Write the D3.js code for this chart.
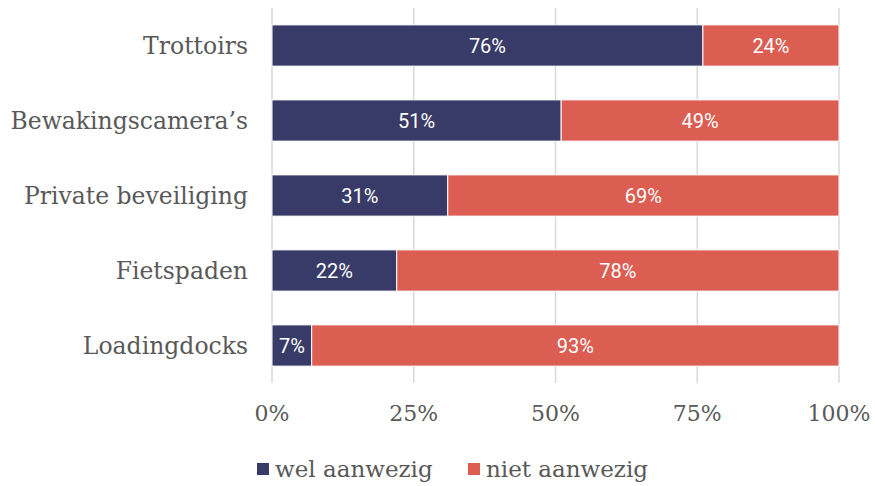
<html lang="en">
<head>
  <meta charset="UTF-8">
  <title>Aanwezigheid</title>
  <script src="https://d3js.org/d3.v7.min.js"></script>
  <style>
    body { margin: 0; background: white; }
  </style>
</head>
<body>
  <svg id="chart" width="875" height="486"></svg>
  <script>
    const categories = ["Trottoirs", "Bewakingscamera’s", "Private beveiliging", "Fietspaden", "Loadingdocks"];
    const welValues = [76, 51, 31, 22, 7];
    const nietValues = [24, 49, 69, 78, 93];
    const seriesNames = ["wel aanwezig", "niet aanwezig"];
    const seriesColors = ["#383b67", "#dc5d52"];
    const tickValues = [0, 25, 50, 75, 100];

    const svg = d3.select("#chart");
    const serif = "'DejaVu Serif', serif";
    const sans = "Roboto, sans-serif";
    const grey = "#595959";

    const x = d3.scaleLinear().domain([0, 100]).range([272, 839]);
    const y = d3.scaleBand().domain(categories).range([8, 383]).paddingInner(0.45).paddingOuter(0.225);

    // gridlines
    svg.append("g").selectAll("line").data(tickValues)
      .join("line")
      .attr("x1", d => x(d)).attr("x2", d => x(d))
      .attr("y1", 8).attr("y2", 383)
      .attr("stroke", "#d9d9d9")
      .attr("stroke-width", 1.5);

    const rows = categories.map((c, i) => ({ cat: c, vals: [welValues[i], nietValues[i]] }));

    const bars = svg.append("g");
    rows.forEach(r => {
      let start = 0;
      r.vals.forEach((v, j) => {
        const g = bars.append("g");
        g.append("rect")
          .attr("x", x(start))
          .attr("y", y(r.cat))
          .attr("width", x(start + v) - x(start))
          .attr("height", y.bandwidth())
          .attr("fill", seriesColors[j])
          .attr("stroke", "white")
          .attr("stroke-width", 1);
        g.append("text")
          .attr("x", (x(start) + x(start + v)) / 2)
          .attr("y", y(r.cat) + y.bandwidth() / 2)
          .attr("dy", "0.36em")
          .attr("text-anchor", "middle")
          .attr("fill", "white")
          .attr("font-family", sans)
          .attr("font-size", 20)
          .text(v + "%");
        start += v;
      });
    });

    // category labels
    svg.append("g").selectAll("text").data(categories)
      .join("text")
      .attr("x", 248)
      .attr("y", d => y(d) + y.bandwidth() / 2)
      .attr("dy", "0.36em")
      .attr("text-anchor", "end")
      .attr("fill", grey)
      .attr("font-family", serif)
      .attr("font-size", 23.5)
      .text(d => d);

    // x tick labels
    svg.append("g").selectAll("text").data(tickValues)
      .join("text")
      .attr("x", d => x(d))
      .attr("y", 421)
      .attr("text-anchor", "middle")
      .attr("fill", grey)
      .attr("font-family", serif)
      .attr("font-size", 22)
      .text(d => d + "%");

    // legend
    const legendX = [257, 468];
    const legend = svg.append("g").selectAll("g").data(seriesNames)
      .join("g")
      .attr("transform", (d, i) => "translate(" + legendX[i] + ",469)");
    legend.append("rect")
      .attr("x", 0).attr("y", -6)
      .attr("width", 12).attr("height", 12)
      .attr("fill", (d, i) => seriesColors[i]);
    legend.append("text")
      .attr("x", 18)
      .attr("dy", "0.36em")
      .attr("fill", grey)
      .attr("font-family", serif)
      .attr("font-size", 23)
      .text(d => d);
  </script>
</body>
</html>
